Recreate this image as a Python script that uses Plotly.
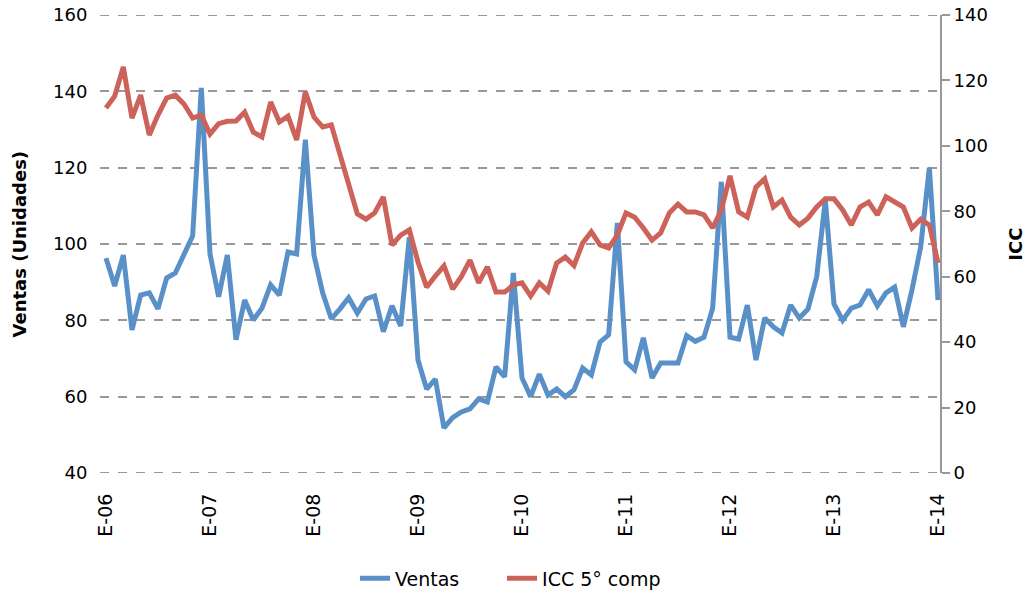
import plotly.graph_objects as go

tick_labels = ["E-06", "E-07", "E-08", "E-09", "E-10", "E-11", "E-12", "E-13", "E-14"]

ventas = [
    96.3, 89, 97.1, 77.5, 86.6, 87.2, 83, 91.1, 92.4, 97.1, 102.1, 140.9,
    97.4, 86.2, 97.1, 74.9, 85.3, 80.1, 83.2, 89.3, 86.6, 97.9, 97.4, 127.3,
    97.1, 87.2, 80.4, 83, 85.9, 81.9, 85.6, 86.4, 77, 83.8, 78.5, 101.8,
    69.6, 62, 64.6, 51.8, 54.5, 56, 56.8, 59.4, 58.6, 67.8, 65.2, 92.4,
    64.9, 60, 65.9, 60.4, 62, 60, 61.8, 67.5, 65.7, 74.3, 76.2, 105.5,
    69.1, 67, 75.4, 64.9, 68.8, 68.8, 68.8, 76, 74.5, 75.6, 83.2, 116.3,
    75.6, 75.1, 84, 69.6, 80.6, 78.3, 76.7, 84, 80.6, 83, 91.4, 111.5,
    84.3, 80, 83.2, 84, 88, 83.8, 87.2, 88.7, 78.3, 88, 99.2, 120,
    85.3,
]

icc = [
    111.6, 115.2, 124.1, 108.5, 115.5, 103.3, 109.4, 114.6, 115.5, 112.8, 108.5, 109.4,
    103.6, 106.8, 107.5, 107.6, 110.3, 104.2, 102.7, 113.4, 107.3, 109.1, 101.8, 116.5,
    108.8, 105.8, 106.4, 97.2, 87.1, 79.2, 77.6, 79.5, 84.4, 69.7, 72.7, 74.3,
    64.5, 56.8, 60.2, 63.3, 56.2, 60, 65.1, 58.1, 63, 55.3, 55.3, 57.5,
    58.1, 54.1, 58.1, 55.6, 64.2, 66, 63.4, 70.3, 73.7, 69.7, 68.8, 72.7,
    79.5, 78.2, 74.9, 71.2, 73.4, 79.5, 82.2, 79.8, 79.8, 78.9, 74.9, 80.4,
    90.8, 79.8, 78.2, 87.4, 89.9, 81.3, 83.4, 78.2, 75.8, 77.9, 81.3, 83.8,
    83.8, 80.4, 75.8, 81.3, 82.8, 78.9, 84.4, 82.8, 81.3, 74.9, 77.6, 75.8,
    64.2,
]

y1_ticks = [40, 60, 80, 100, 120, 140, 160]
y2_ticks = [0, 20, 40, 60, 80, 100, 120, 140]

months = list(range(len(ventas)))
tick_pos = months[::12]

FONT = "DejaVu Sans"
BLUE = "#5A90C8"
RED = "#CC625A"
GRID = "#999999"

fig = go.Figure()
fig.add_trace(go.Scatter(x=months, y=ventas, name="Ventas", mode="lines",
                         line=dict(color=BLUE, width=5), legend="legend"))
fig.add_trace(go.Scatter(x=months, y=icc, name="ICC 5° comp", mode="lines",
                         line=dict(color=RED, width=5), yaxis="y2",
                         legend="legend2"))

# gridlines at the range ends (plotly skips grid at the plot edges)
edge_shapes = [
    dict(type="line", xref="paper", x0=0, x1=1, yref="y", y0=v, y1=v,
         line=dict(color=GRID, width=2, dash="dash"), layer="below")
    for v in (y1_ticks[0], y1_ticks[-1])
]

legend_style = dict(orientation="h", xanchor="left", y=-0.23,
                    yanchor="middle", font=dict(size=19),
                    bgcolor="rgba(0,0,0,0)")

fig.update_layout(
    width=1033, height=592,
    margin=dict(l=100, r=93, t=15, b=119, autoexpand=False),
    plot_bgcolor="white", paper_bgcolor="white",
    font=dict(family=FONT, size=18, color="black"),
    xaxis=dict(range=[-0.69, 96.23], tickvals=tick_pos, ticktext=tick_labels,
               tickangle=-90, showgrid=False, zeroline=False, showline=False,
               ticks="outside", ticklen=12, tickcolor="rgba(0,0,0,0)",
               tickfont=dict(size=19), automargin=False,
               ticklabeloverflow="allow"),
    yaxis=dict(range=[40, 160], tickvals=y1_ticks,
               showgrid=True, gridcolor=GRID,
               griddash="dash", gridwidth=2, zeroline=False, showline=False,
               ticks="outside", ticklen=8, tickcolor="rgba(0,0,0,0)",
               tickfont=dict(size=18), automargin=False,
               ticklabeloverflow="allow"),
    yaxis2=dict(range=[0, 140], tickvals=y2_ticks,
                overlaying="y", side="right",
                showgrid=False, zeroline=False, showline=True,
                linecolor=GRID, linewidth=2, ticks="outside",
                ticklen=8, tickcolor=GRID, tickwidth=2,
                tickfont=dict(size=18), automargin=False,
                ticklabeloverflow="allow"),
    legend=dict(x=0.3036, **legend_style),
    legend2=dict(x=0.4786, **legend_style),
    showlegend=True,
    shapes=edge_shapes,
    annotations=[
        dict(text="<b>Ventas (Unidades)</b>", xref="paper", yref="paper",
             x=-0.097, y=0.5, textangle=-90, showarrow=False,
             font=dict(size=18), xanchor="center", yanchor="middle"),
        dict(text="<b>ICC</b>", xref="paper", yref="paper",
             x=1.089, y=0.5, textangle=-90, showarrow=False,
             font=dict(size=18), xanchor="center", yanchor="middle"),
    ],
)

fig.write_html("out.html", config={"displayModeBar": False},
               post_script="document.body.style.margin='0';")
